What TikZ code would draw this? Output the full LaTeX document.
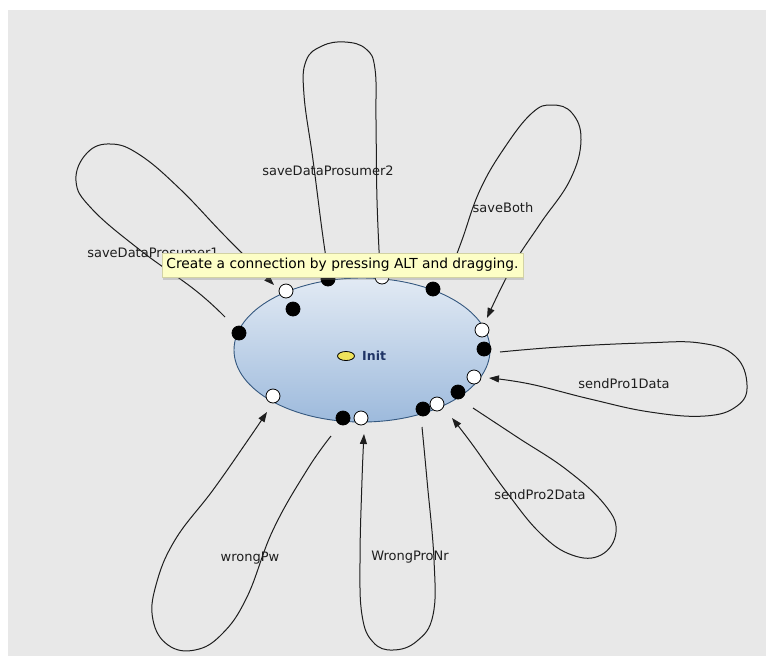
\documentclass[tikz,border=0pt]{standalone}
\usepackage{fontspec}
\setmainfont{DejaVu Sans}
\usetikzlibrary{arrows.meta,shapes.geometric,shadows}
\definecolor{canvas}{HTML}{E8E8E8}
\definecolor{stateTop}{HTML}{E2EAF4}
\definecolor{stateBottom}{HTML}{9DBADC}
\definecolor{stateEdge}{HTML}{35587F}
\definecolor{tipFill}{HTML}{FDFEC6}
\definecolor{tipEdge}{HTML}{D2D2A4}
\definecolor{markFill}{HTML}{EFE35C}
\definecolor{initText}{HTML}{1F3466}
\definecolor{ink}{HTML}{1E1E1E}
\tikzset{
  state/.style={ellipse, draw=stateEdge, line width=0.9pt, top color=stateTop,
    bottom color=stateBottom, minimum width=256pt, minimum height=144pt, inner sep=0pt},
  portb/.style={circle, fill=black, draw=black, line width=0.8pt, minimum size=14pt, inner sep=0pt},
  portw/.style={circle, fill=white, draw=black, line width=0.8pt, minimum size=14pt, inner sep=0pt},
  trans/.style={draw=ink, line width=1pt, -{Triangle[length=10pt,width=7pt]}},
  loopline/.style={smooth, tension=0.7},
  lbl/.style={font=\fontsize{13}{15}\selectfont, text=ink, inner sep=0pt},
  hint/.style={rectangle, fill=tipFill, draw=tipEdge, line width=0.4pt,
    minimum width=361pt, minimum height=24pt, inner sep=0pt, text=black,
    font=\fontsize{13.8}{16}\selectfont,
    drop shadow={opacity=0.3, shadow xshift=1pt, shadow yshift=-2.5pt}},
}
\begin{document}
\begin{tikzpicture}[x=1pt,y=-1pt]
\useasboundingbox (0,0) rectangle (766,657);
\fill[canvas] (8,10) rectangle (766,656);

% loop end points
\coordinate (s1) at (225,317);  \coordinate (e1) at (274,285);
\coordinate (s2) at (328,271);  \coordinate (e2) at (380,269);
\coordinate (s3) at (450,272);  \coordinate (e3) at (487,318);
\coordinate (s4) at (500,352);  \coordinate (e4) at (489,378);
\coordinate (s5) at (473,408);  \coordinate (e5) at (452,418);
\coordinate (s6) at (422,427);  \coordinate (e6) at (364,434);
\coordinate (s7) at (331,436);  \coordinate (e7) at (267,412);

% self transitions of Init
\draw[trans] plot[loopline] coordinates {(s1) (195,290) (140,250) (92,209) (76,181)
  (87,153) (111,144) (140,155) (180,189) (225,236) (e1)};
\draw[trans] plot[loopline] coordinates {(s2) (322,230) (313,160) (304,95) (306,61)
  (322,46) (345,42) (366,49) (375,69) (376,120) (377,200) (e2)};
\draw[trans] plot[loopline] coordinates {(s3) (462,240) (480,190) (505,147) (532,113)
  (552,105) (572,113) (581,140) (570,180) (540,224) (512,267) (e3)};
\draw[trans] plot[loopline] coordinates {(s4) (560,347) (643,343) (700,343) (735,356)
  (747,385) (737,406) (705,416) (650,412) (590,399) (530,384) (e4)};
\draw[trans] plot[loopline] coordinates {(s5) (517,437) (567,470) (605,505) (616,532)
  (601,555) (572,555) (540,533) (505,490) (472,444) (e5)};
\draw[trans] plot[loopline] coordinates {(s6) (427,480) (434,560) (433,615) (417,641)
  (393,650) (373,642) (362,615) (360,560) (362,480) (e6)};
\draw[trans] plot[loopline] coordinates {(s7) (307,470) (273,530) (247,597) (222,634)
  (195,650) (168,645) (153,620) (156,585) (175,540) (213,490) (248,440) (e7)};

% the state
\node[state] (init) at (362,350) {};
\node[ellipse, fill=markFill, draw=black, line width=0.8pt, minimum width=17pt,
  minimum height=9pt, inner sep=0pt] (mark) at (346,356) {};
\node[anchor=west, inner sep=0pt, text=initText, font=\bfseries\fontsize{12.5}{14}\selectfont]
  (initname) at (362,356) {Init};

% transition ports
\node[portb] (b1) at (239,333) {};
\node[portw] (w1) at (286,291) {};
\node[portb] (b2) at (293,309) {};
\node[portb] (b3) at (328,279) {};
\node[portw] (w2) at (382,277) {};
\node[portb] (b4) at (433,289) {};
\node[portw] (w3) at (482,330) {};
\node[portb] (b5) at (484,349) {};
\node[portw] (w4) at (474,377) {};
\node[portb] (b6) at (458,392) {};
\node[portw] (w5) at (437,404) {};
\node[portb] (b7) at (423,409) {};
\node[portw] (w6) at (361,418) {};
\node[portb] (b8) at (343,418) {};
\node[portw] (w7) at (273,396) {};

% transition labels
\node[lbl] (l1) at (153,253) {saveDataProsumer1};
\node[lbl] (l2) at (328,171) {saveDataProsumer2};
\node[lbl] (l3) at (503,208) {saveBoth};
\node[lbl] (l4) at (624,384) {sendPro1Data};
\node[lbl] (l5) at (540,495) {sendPro2Data};
\node[lbl] (l6) at (410,557) {WrongProNr};
\node[lbl] (l7) at (250,558) {wrongPw};

% hover hint
\node[hint] (hintbox) at (342.5,265) {Create a connection by pressing ALT and dragging.};
\end{tikzpicture}
\end{document}
